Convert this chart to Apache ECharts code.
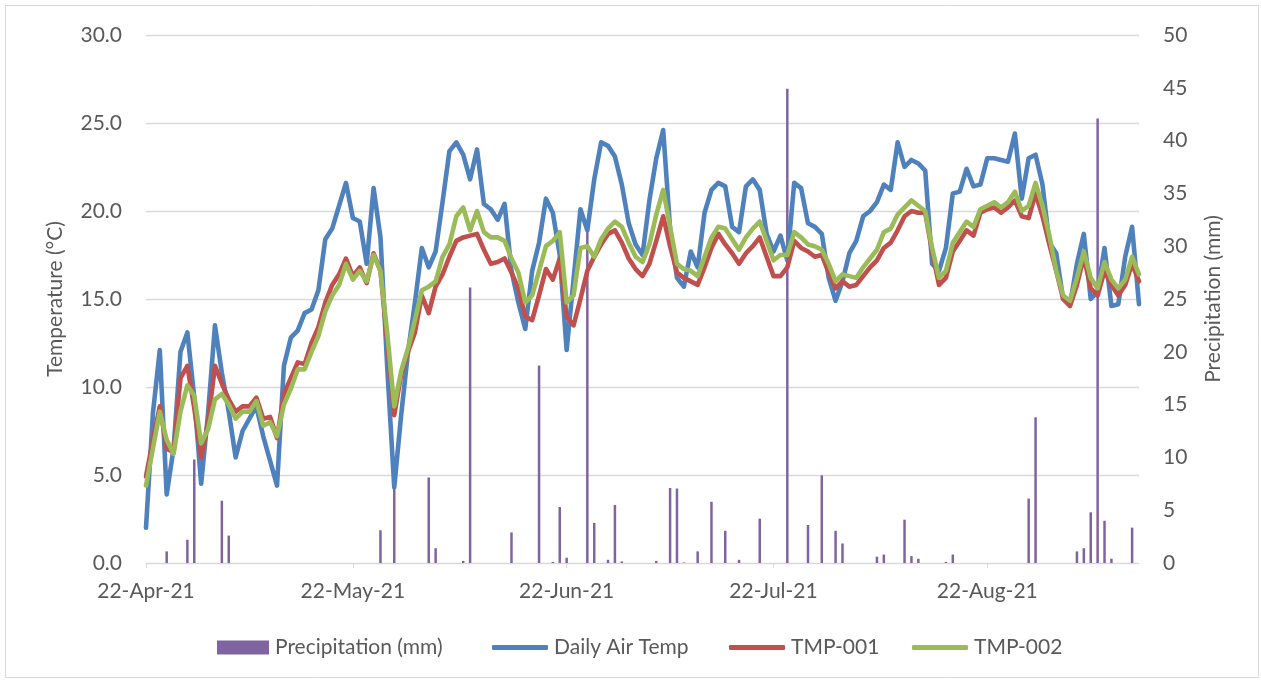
<!DOCTYPE html>
<html>
<head>
<meta charset="utf-8">
<script src="https://cdn.jsdelivr.net/npm/echarts@6/dist/echarts.min.js"></script>
<style>
  html, body { margin: 0; padding: 0; background: #ffffff; }
  #chart { width: 1261px; height: 683px; }
</style>
</head>
<body>
<div id="chart"></div>
<script>
// ---- Data ----
const START_DATE = [2021, 3, 22];   // 22-Apr-2021, one value per day
const DAY_COUNT = 145;               // 22-Apr-21 .. 13-Sep-21
const TICK_LABELS = ['22-Apr-21', '22-May-21', '22-Jun-21', '22-Jul-21', '22-Aug-21'];
const TEMP_TICKS = [0, 5, 10, 15, 20, 25, 30];
const PRECIP_TICKS = [0, 5, 10, 15, 20, 25, 30, 35, 40, 45, 50];

const dailyAirTemp = [
  2.0, 8.5, 12.1, 3.9, 6.5, 12.0, 13.1, 9.4, 4.5, 8.5,
  13.5, 10.8, 8.6, 6.0, 7.5, 8.2, 8.9, 7.2, 5.8, 4.4,
  11.2, 12.8, 13.2, 14.2, 14.4, 15.5, 18.4, 19.0, 20.3, 21.6,
  19.6, 19.4, 17.0, 21.3, 18.5, 11.0, 4.3, 8.4, 12.0, 14.8,
  17.9, 16.8, 17.7, 20.5, 23.4, 23.9, 23.2, 21.8, 23.5, 20.4,
  20.1, 19.5, 20.4, 16.6, 14.8, 13.3, 16.6, 18.2, 20.7, 19.9,
  17.5, 12.1, 16.1, 20.1, 18.9, 21.8, 23.9, 23.7, 23.1, 21.5,
  19.3, 18.1, 17.5, 20.6, 23.0, 24.6, 19.0, 16.2, 15.7, 17.7,
  16.8, 19.9, 21.2, 21.6, 21.4, 19.1, 18.8, 21.4, 21.8, 21.2,
  18.7, 17.7, 18.6, 17.2, 21.6, 21.3, 19.3, 19.1, 18.7, 16.2,
  14.9, 16.0, 17.6, 18.3, 19.7, 20.0, 20.5, 21.5, 21.2, 23.9,
  22.5, 22.9, 22.7, 22.3, 17.0, 16.6, 17.9, 21.0, 21.1, 22.4,
  21.4, 21.5, 23.0, 23.0, 22.9, 22.8, 24.4, 20.7, 23.0, 23.2,
  21.5, 18.2, 17.6, 15.0, 14.7, 17.0, 18.7, 15.0, 15.4, 17.9,
  14.6, 14.7, 17.4, 19.1, 14.7
];

const tmp001 = [
  4.9, 7.0, 8.9, 6.5, 6.3, 10.5, 11.2, 8.8, 6.0, 8.0,
  11.2, 10.2, 9.3, 8.6, 8.9, 8.9, 9.4, 8.2, 8.3, 7.1,
  9.6, 10.5, 11.4, 11.3, 12.5, 13.4, 14.8, 15.8, 16.4, 17.3,
  16.3, 16.8, 15.9, 17.6, 16.6, 12.5, 8.4, 10.7, 12.0, 13.1,
  15.2, 14.2, 15.7, 16.4, 17.4, 18.3, 18.5, 18.6, 18.7, 17.8,
  17.0, 17.1, 17.3, 16.5, 15.6, 14.0, 13.8, 15.2, 16.7, 16.1,
  17.3, 14.0, 13.5, 15.0, 16.6, 17.4, 18.1, 18.7, 18.9, 18.2,
  17.3, 16.7, 16.3, 17.0, 18.3, 19.7, 18.0, 16.5, 16.2, 16.0,
  15.8, 16.8, 17.9, 18.7, 18.1, 17.6, 17.0, 17.6, 18.0, 18.5,
  17.4, 16.3, 16.3, 16.8, 18.3, 17.9, 17.7, 17.4, 17.5, 16.5,
  15.6, 16.0, 15.7, 15.8, 16.3, 16.8, 17.2, 17.9, 18.2, 18.9,
  19.7, 20.0, 19.9, 19.9, 17.7, 15.8, 16.2, 17.7, 18.3, 18.9,
  18.6, 19.9, 20.1, 20.2, 19.9, 20.2, 20.6, 19.7, 19.6, 21.0,
  19.7, 18.1, 16.6, 15.0, 14.6, 15.8, 17.4, 15.6, 15.2, 16.6,
  15.8, 15.2, 15.8, 17.0, 16.0
];

const tmp002 = [
  4.4, 6.5, 8.6, 7.0, 6.2, 8.6, 10.1, 9.5, 6.8, 7.6,
  9.3, 9.6, 9.0, 8.2, 8.6, 8.6, 9.2, 7.8, 8.0, 7.2,
  9.0, 9.9, 11.0, 11.0, 12.0, 12.9, 14.3, 15.2, 15.8, 17.0,
  16.1, 16.6, 16.0, 17.5, 16.6, 13.0, 8.9, 10.9, 12.2, 13.8,
  15.5, 15.7, 16.0, 17.4, 18.1, 19.7, 20.2, 18.9, 20.0, 18.8,
  18.5, 18.5, 18.3, 17.3, 16.5, 14.8, 15.2, 16.6, 18.0, 18.3,
  18.8, 14.8, 15.2, 17.9, 18.0, 17.4, 18.4, 19.0, 19.4, 19.1,
  18.2, 17.4, 17.1, 18.1, 19.8, 21.2, 19.1, 17.0, 16.7, 16.6,
  16.3, 17.4, 18.5, 19.1, 19.0, 18.4, 17.8, 18.5, 19.0, 19.4,
  18.3, 17.2, 17.5, 17.5, 18.8, 18.5, 18.1, 18.0, 17.8, 17.0,
  16.0, 16.4, 16.3, 16.2, 16.8, 17.3, 17.8, 18.8, 19.0, 19.8,
  20.2, 20.6, 20.3, 20.0, 17.9, 16.2, 16.6, 18.2, 18.8, 19.4,
  19.1, 20.1, 20.3, 20.5, 20.2, 20.5, 21.1, 20.0, 20.3, 21.6,
  20.3, 18.6, 16.6, 15.2, 14.9, 16.2, 17.7, 16.2, 15.6, 17.1,
  16.1, 15.6, 16.1, 17.4, 16.4
];

const precipitation = [
  0, 0, 0, 1.1, 0, 0, 2.2, 9.8, 0, 0,
  0, 5.9, 2.6, 0, 0, 0, 0, 0, 0, 0,
  0, 0, 0, 0, 0, 0, 0, 0, 0, 0,
  0, 0, 0, 0, 3.1, 0, 7.5, 0, 0, 0,
  0, 8.1, 1.4, 0, 0, 0, 0.2, 26.1, 0, 0,
  0, 0, 0, 2.9, 0, 0, 0, 18.7, 0, 0.1,
  5.3, 0.5, 0, 0, 31.5, 3.8, 0, 0.3, 5.5, 0.15,
  0, 0, 0, 0, 0.2, 0, 7.1, 7.05, 0.05, 0,
  1.1, 0, 5.8, 0, 3.05, 0, 0.3, 0, 0, 4.2,
  0, 0, 0, 44.9, 0, 0, 3.6, 0, 8.3, 0,
  3.05, 1.85, 0, 0, 0, 0, 0.6, 0.8, 0, 0,
  4.1, 0.65, 0.4, 0, 0, 0, 0.1, 0.8, 0, 0,
  0, 0, 0, 0, 0, 0, 0, 0, 6.1, 13.8,
  0, 0, 0, 0, 0, 1.1, 1.4, 4.8, 42.1, 4.0,
  0.4, 0, 0, 3.35, 0
];

// ---- Category labels (one per day) ----
const MONTHS = ['Jan','Feb','Mar','Apr','May','Jun','Jul','Aug','Sep','Oct','Nov','Dec'];
const categories = [];
for (let i = 0; i < DAY_COUNT; i++) {
  const dt = new Date(START_DATE[0], START_DATE[1], START_DATE[2] + i);
  categories.push(dt.getDate() + '-' + MONTHS[dt.getMonth()] + '-' + String(dt.getFullYear()).slice(2));
}
const isTick = (idx, val) => TICK_LABELS.indexOf(val) >= 0;

const FONT = 'Lato';
const TXT = '#595959';
const GRID = '#D9D9D9';

const chart = echarts.init(document.getElementById('chart'), null, { renderer: 'canvas' });

function legendFor(name, left, icon, w, h) {
  return {
    data: [name], left: left, top: 637, padding: 0,
    icon: icon, itemWidth: w, itemHeight: h, itemGap: 0,
    textStyle: { color: TXT, fontSize: 21, fontFamily: FONT, padding: [0, 0, 0, 1] },
    selectedMode: false
  };
}

chart.setOption({
  backgroundColor: '#ffffff',
  animation: false,
  graphic: [{
    type: 'rect', silent: true, z: -10,
    shape: { x: 5.5, y: 5.5, width: 1253, height: 672 },
    style: { fill: 'none', stroke: GRID, lineWidth: 1 }
  }],
  grid: { left: 146, right: 122, top: 35, bottom: 120, containLabel: false },
  legend: [
    legendFor('Precipitation (mm)', 217, 'rect', 52, 14),
    legendFor('Daily Air Temp', 492, 'roundRect', 56, 5),
    legendFor('TMP-001', 729, 'roundRect', 56, 5),
    legendFor('TMP-002', 912, 'roundRect', 56, 5)
  ],
  xAxis: {
    type: 'category', data: categories, boundaryGap: false,
    axisLine: { show: true, lineStyle: { color: GRID, width: 1 } },
    axisTick: { show: true, interval: isTick, length: 5, lineStyle: { color: GRID } },
    axisLabel: {
      interval: isTick, color: TXT, fontSize: 21, fontFamily: FONT, margin: 18,
      hideOverlap: false
    },
    splitLine: { show: false }
  },
  yAxis: [{
    type: 'value', min: TEMP_TICKS[0], max: TEMP_TICKS[TEMP_TICKS.length - 1], interval: 5,
    name: 'Temperature (°C)', nameLocation: 'middle', nameGap: 80, nameRotate: 90,
    nameTextStyle: { color: TXT, fontSize: 21, fontFamily: FONT },
    axisLine: { show: false }, axisTick: { show: false },
    axisLabel: { color: TXT, fontSize: 21, fontFamily: FONT, margin: 24,
      formatter: v => v.toFixed(1) },
    splitLine: { show: true, lineStyle: { color: GRID, width: 1.3 } }
  }, {
    type: 'value', min: PRECIP_TICKS[0], max: PRECIP_TICKS[PRECIP_TICKS.length - 1], interval: 5,
    name: 'Precipitation (mm)', nameLocation: 'middle', nameGap: 64, nameRotate: 90,
    nameTextStyle: { color: TXT, fontSize: 21, fontFamily: FONT },
    axisLine: { show: false }, axisTick: { show: false },
    axisLabel: { color: TXT, fontSize: 21, fontFamily: FONT, margin: 24,
      formatter: v => String(v) },
    splitLine: { show: false }
  }],
  series: [{
    name: 'Precipitation (mm)', type: 'bar', yAxisIndex: 1, data: precipitation,
    barWidth: 2.5, itemStyle: { color: '#8064A2' }
  }, {
    name: 'Daily Air Temp', type: 'line', yAxisIndex: 0, data: dailyAirTemp,
    symbol: 'none', color: '#4F81BD',
    lineStyle: { width: 4.6, color: '#4F81BD', cap: 'round', join: 'round' }
  }, {
    name: 'TMP-001', type: 'line', yAxisIndex: 0, data: tmp001,
    symbol: 'none', color: '#C0504D',
    lineStyle: { width: 4.6, color: '#C0504D', cap: 'round', join: 'round' }
  }, {
    name: 'TMP-002', type: 'line', yAxisIndex: 0, data: tmp002,
    symbol: 'none', color: '#9BBB59',
    lineStyle: { width: 4.6, color: '#9BBB59', cap: 'round', join: 'round' }
  }]
});
</script>
</body>
</html>
